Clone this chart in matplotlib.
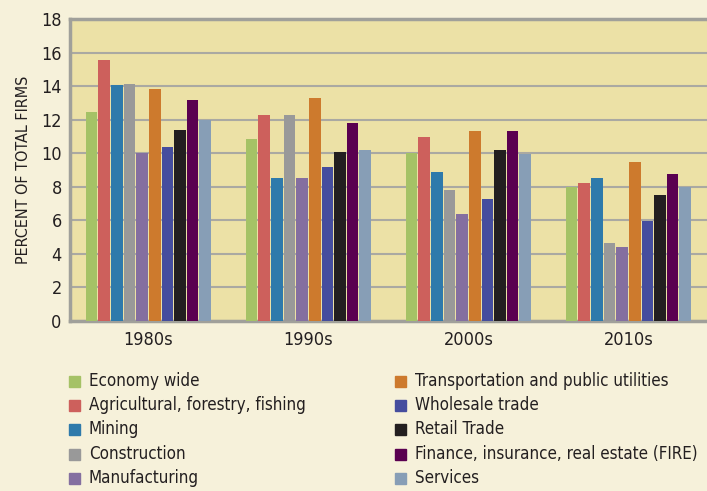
import numpy as np
import matplotlib.pyplot as plt
from matplotlib.patches import Rectangle

plt.rcParams['font.family'] = ['DejaVu Sans']
plt.rcParams['font.stretch'] = 'condensed'

decades = ['1980s', '1990s', '2000s', '2010s']
sectors = ['Economy wide', 'Agricultural, forestry, fishing', 'Mining', 'Construction',
           'Manufacturing', 'Transportation and public utilities', 'Wholesale trade',
           'Retail Trade', 'Finance, insurance, real estate (FIRE)', 'Services']
colors = ['#a5c266', '#cd605c', '#2e7aab', '#999999', '#846fa0',
          '#cd7a2d', '#454d9e', '#231f20', '#5a0050', '#879eb6']

economy = [12.45, 10.85, 10.0, 8.0]
agri = [15.55, 12.3, 10.95, 8.2]
mining = [14.05, 8.5, 8.9, 8.5]
construction = [14.1, 12.3, 7.8, 4.65]
manufacturing = [10.0, 8.5, 6.4, 4.4]
transport = [13.8, 13.3, 11.3, 9.5]
wholesale = [10.4, 9.2, 7.3, 5.95]
retail = [11.4, 10.1, 10.2, 7.5]
fire = [13.2, 11.8, 11.3, 8.75]
services = [12.0, 10.2, 9.95, 8.0]
series = [economy, agri, mining, construction, manufacturing,
          transport, wholesale, retail, fire, services]

fig = plt.figure(figsize=(7.07, 4.91), dpi=100)
fig.patch.set_facecolor('#f6f1da')
# plot area runs off the right edge of the figure, as in the original
ax = fig.add_axes([70 / 707, 1 - 321 / 491, 640 / 707, (321 - 19) / 491])
ax.set_facecolor('#ece1a6')

x = np.arange(len(decades))
step = 0.079
for i, vals in enumerate(series):
    ax.bar(x + (i - 4.5) * step, vals, width=step * 0.92, color=colors[i], zorder=3)

ax.set_xlim(-0.49, 3.51)
ax.set_ylim(0, 18)
ax.set_yticks(range(0, 19, 2))
ax.tick_params(axis='y', labelsize=13, length=0, pad=6, colors='#231f20')
ax.set_xticks(x)
ax.set_xticklabels(decades)
ax.tick_params(axis='x', labelsize=13, length=0, pad=7, colors='#231f20')
ax.grid(True, axis='y', color='#aaa9a2', linewidth=1.5, zorder=1)
ax.spines['right'].set_visible(False)
for side in ['left', 'bottom', 'top']:
    ax.spines[side].set_color('#a0a09a')
    ax.spines[side].set_linewidth(2.5)
ax.set_ylabel('PERCENT OF TOTAL FIRMS', fontsize=11.5, color='#231f20', labelpad=7)

# legend, two columns
col_x = [69, 395]
row_y = [381, 405, 429, 454, 478]
for i, name in enumerate(sectors):
    cx = col_x[i // 5]
    cy = row_y[i % 5]
    fig.add_artist(Rectangle((cx / 707, 1 - (cy + 6) / 491), 11 / 707, 11 / 491,
                             transform=fig.transFigure, color=colors[i]))
    fig.text((cx + 20) / 707, 1 - cy / 491, name, fontsize=12.2, va='center',
             ha='left', color='#231f20')

fig.savefig('out.png', dpi=100, facecolor=fig.get_facecolor())
